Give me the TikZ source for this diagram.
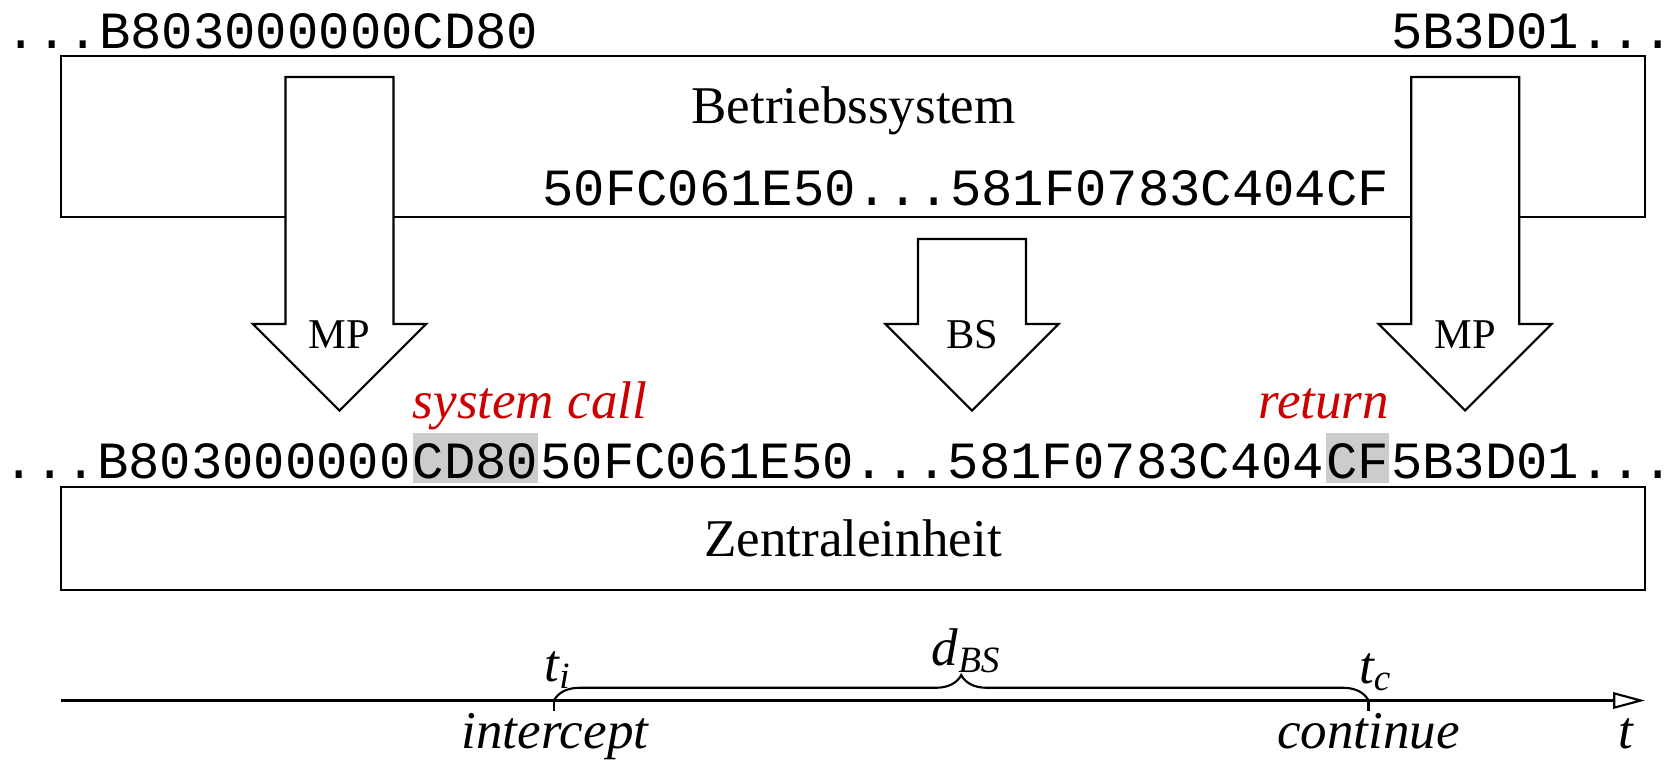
\documentclass[tikz,border=0pt]{standalone}
\usepackage{fontspec}
\setmainfont{Liberation Serif}
\setmonofont{Liberation Mono}[Scale=0.985]
\usetikzlibrary{positioning,arrows.meta,decorations.pathreplacing}

\definecolor{callred}{RGB}{204,0,0}
\definecolor{hlgray}{RGB}{204,204,204}

\tikzset{
  hexrow/.style={font=\ttfamily, inner sep=0pt, text height=8.48pt, text depth=0.94pt},
  hexhl/.style={hexrow, fill=hlgray},
  blockarrow/.style={draw, fill=white, line join=miter},
  arrowlabel/.style={font=\footnotesize, inner sep=0pt, anchor=base},
  calllabel/.style={font=\itshape, text=callred, inner sep=0pt},
  axislabel/.style={font=\itshape, inner sep=0pt, anchor=base},
}

\begin{document}
\begin{tikzpicture}[x=0.1885pt,y=0.1885pt,yscale=-1]
\useasboundingbox (0,0) rectangle (1677,762);

%Rectangle: operating system
\node[draw, minimum width=298.6pt, minimum height=30.4pt, inner sep=0pt] (os) at (853,136.3) {};
% Text Node
\node[inner sep=0pt, anchor=base] (oslabel) at (853.5,123) {Betriebssystem};

%Shape: Down Arrow (left MP)
\draw[blockarrow] (285.5,77) -- (393.5,77) -- (393.5,324) -- (426,324) -- (339.5,410.5) -- (253,324) -- (285.5,324) -- cycle ;
%Shape: Down Arrow (BS)
\draw[blockarrow] (918,239) -- (1026,239) -- (1026,324) -- (1058.5,324) -- (972,410.5) -- (885.5,324) -- (918,324) -- cycle ;
%Shape: Down Arrow (right MP)
\draw[blockarrow] (1411.2,77) -- (1519.2,77) -- (1519.2,324) -- (1551.7,324) -- (1465.2,410.5) -- (1378.7,324) -- (1411.2,324) -- cycle ;

% Text Node
\node[arrowlabel] (mpleft) at (339.5,348.7) {MP};
\node[arrowlabel] (bs) at (972,348.7) {BS};
\node[arrowlabel] (mpright) at (1465.2,348.7) {MP};

% Hex row (CPU)
\node[hexrow, anchor=base west] (pre) at (2,478) {...B803000000};
\node[hexhl, right=0pt of pre] (cd) {CD80};
\node[hexrow, right=0pt of cd] (mid) {50FC061E50...581F0783C404};
\node[hexhl, right=0pt of mid] (cf) {CF};
\node[hexrow, right=0pt of cf] (post) {5B3D01...};

% Hex rows (memory)
\coordinate (topbase) at (0,48);
\coordinate (osbase) at (0,205);
\node[hexrow, anchor=base east] (toprow) at (cd.east |- topbase) {...B803000000CD80};
\node[hexrow, anchor=base west] (toptail) at (cf.east |- topbase) {5B3D01...};
\node[hexrow, anchor=base east] (osrow) at (cf.east |- osbase) {50FC061E50...581F0783C404CF};

\node[calllabel, anchor=base west] (syscall) at ([yshift=-2.45pt]cd.north west) {system call};
\node[calllabel, anchor=base east] (ret) at ([yshift=-2.45pt]cf.north east) {return};

%Rectangle: CPU
\node[draw, minimum width=298.6pt, minimum height=19.5pt, inner sep=0pt] (cpu) at (853,538.3) {Zentraleinheit};

%Time axis
\coordinate (t0) at (61,700.5);
\coordinate (tend) at (1645,700.5);
\coordinate (ti) at (554,700.5);
\coordinate (tc) at (1368.5,700.5);
\draw[-{Triangle[open,length=6pt,width=3.1pt]}] (t0) -- (tend);
\draw (ti) -- ++(0,10);
\draw (tc) -- ++(0,10);
\draw[decorate, decoration={brace, amplitude=4.8pt}] (ti) -- (tc);

% Text Node
\node[axislabel] (tilab) at (558.6,681) {t\textsubscript{i}};
\node[axislabel] (dbs) at (967,665) {d\textsubscript{BS}};
\node[axislabel] (tclab) at (1376,683) {t\textsubscript{c}};
\node[axislabel] (icpt) at (555,748.7) {intercept};
\node[axislabel] (cont) at (1368.5,748.7) {continue};
\node[axislabel] (tlab) at (1626,748.7) {t};

\end{tikzpicture}
\end{document}
